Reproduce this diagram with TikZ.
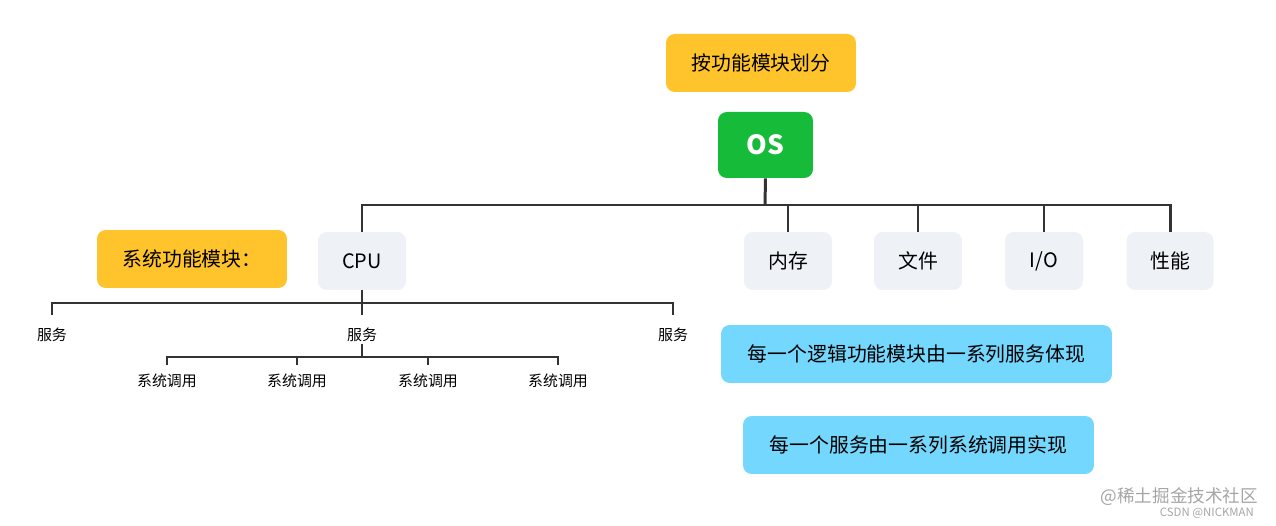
\documentclass[tikz,border=0pt]{standalone}
\usepackage{fontspec}
\setmainfont{Noto Sans CJK SC}
\definecolor{ylw}{HTML}{FFC42B}
\definecolor{grn}{HTML}{16BB3A}
\definecolor{gry}{HTML}{EEF1F5}
\definecolor{blu}{HTML}{74D7FD}
\definecolor{ln}{HTML}{333333}
\begin{document}
\begin{tikzpicture}[x=0.02cm,y=-0.02cm,
 box/.style={rounded corners=5pt,inner sep=0pt,font=\fontsize{11.3}{13}\selectfont},
 tl/.style={draw=ln,line width=1.7pt},
 tl2/.style={draw=ln,line width=1.4pt},
 sm/.style={font=\fontsize{8.5}{10}\selectfont,inner sep=1pt}]
\useasboundingbox (0,0) rectangle (1276,526);
\fill[white] (0,0) rectangle (1276,526);
\node[box,fill=ylw,minimum width=3.8cm,minimum height=1.16cm] (h) at (761,63) {按功能模块划分};
\node[box,fill=grn,text=white,font=\fontsize{15}{18}\selectfont\bfseries,minimum width=1.9cm,minimum height=1.32cm] (os) at (765.5,145) {OS};
\node[box,fill=ylw,minimum width=3.8cm,minimum height=1.16cm] (sys) at (192,259) {系统功能模块：};
\foreach \n/\t/\x/\w in {cpu/CPU/362/88,mem/内存/788/88,file/文件/918/88,io/I\slash O/1044/78,perf/性能/1170/87}
  \node[box,fill=gry,minimum width=\w*0.02cm,minimum height=1.16cm] (\n) at (\x,261) {\t};
\coordinate (b) at (765,205);
\draw[tl] (os.south) -- (b);
\draw[tl] (cpu.north) -- (362,205) -- (1170,205) -- (perf.north);
\foreach \n/\x in {mem/788,file/918,io/1044} \draw[tl] (\x,205) -- (\n.north);
\node[sm] (s1) at (52,335) {服务};
\node[sm] (s2) at (362,335) {服务};
\node[sm] (s3) at (673,335) {服务};
\draw[tl] (cpu.south) -- (362,303);
\draw[tl] (52,315) -- (52,303) -- (673,303) -- (673,315);
\draw[tl] (362,303) -- (362,315);
\foreach \i/\x in {1/167,2/297,3/428,4/558} \node[sm] (c\i) at (\x,381) {系统调用};
\draw[tl2] (s2.south) -- (362,357);
\draw[tl2] (167,365) -- (167,357) -- (558,357) -- (558,365);
\draw[tl2] (297,357) -- (297,365) (428,357) -- (428,365);
\node[box,fill=blu,minimum width=7.82cm,minimum height=1.16cm] (d1) at (916.5,354) {每一个逻辑功能模块由一系列服务体现};
\node[box,fill=blu,minimum width=7.02cm,minimum height=1.16cm] (d2) at (918.5,445) {每一个服务由一系列系统调用实现};
\node[sm,text=gray!70,font=\fontsize{10}{12}\selectfont,anchor=east] (w1) at (1260,497) {@稀土掘金技术社区};
\node[sm,text=gray!70,font=\fontsize{6.5}{8}\selectfont,anchor=east] (w2) at (1256,513) {CSDN @NICKMAN};
\end{tikzpicture}
\end{document}
